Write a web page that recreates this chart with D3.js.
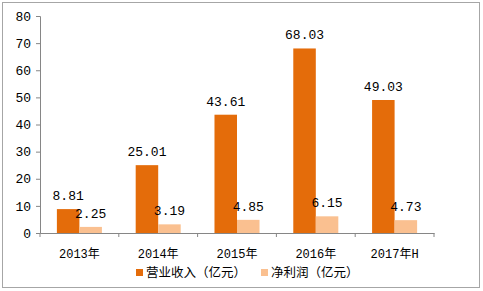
<!DOCTYPE html>
<html><head><meta charset="utf-8">
<script src="https://cdn.jsdelivr.net/npm/d3@7"></script>
<style>body{margin:0;background:#fff;}svg{display:block;}text{font-family:"Liberation Mono","Noto Sans CJK SC",monospace;}</style>
</head><body><svg id="c" width="483" height="291"></svg>
<script>
const categories = ["2013年","2014年","2015年","2016年","2017年H"];
const revenue = [8.81,25.01,43.61,68.03,49.03];
const profit = [2.25,3.19,4.85,6.15,4.73];
const yTicks = [0,10,20,30,40,50,60,70,80];
const seriesNames = ["营业收入（亿元）","净利润（亿元）"];
const colors = ["#E46C0A","#FAC090"];

const svg = d3.select("#c");
svg.append("rect").attr("x",2.5).attr("y",2.5).attr("width",477).attr("height",285)
  .attr("fill","#fff").attr("stroke","#A6A6A6");

const x = d3.scaleBand().domain(categories).range([40,434]).paddingInner(0).paddingOuter(0);
const y = d3.scaleLinear().domain([0,80]).range([233,16]);
const xs = d3.scaleBand().domain([0,1]).range([0,x.bandwidth()]).paddingInner(0).paddingOuter(0.75);

const yAxis = svg.append("g").attr("transform","translate(40,0)")
  .call(d3.axisLeft(y).tickValues(yTicks).tickSize(4).tickPadding(5).tickFormat(d3.format("d")));
yAxis.select(".domain").attr("stroke","#868686");
yAxis.selectAll(".tick line").attr("stroke","#868686");
yAxis.selectAll("text").attr("font-size",13).attr("fill","#000");

const xAxis = svg.append("g").attr("transform","translate(0,233)")
  .call(d3.axisBottom(x).tickSize(0).tickPadding(16));
xAxis.select(".domain").attr("stroke","#868686");
xAxis.selectAll("text").attr("font-size",12).attr("fill","#000");
// category boundary ticks
svg.append("g").selectAll("line").data(d3.range(categories.length+1)).join("line")
  .attr("x1",i=>40+i*x.bandwidth()).attr("x2",i=>40+i*x.bandwidth())
  .attr("y1",233).attr("y2",237).attr("stroke","#868686");

const series = [revenue, profit];
series.forEach((vals,si)=>{
  const g = svg.append("g");
  g.selectAll("rect").data(vals).join("rect")
    .attr("x",(d,i)=>x(categories[i])+xs(si))
    .attr("width",xs.bandwidth())
    .attr("y",d=>y(d)).attr("height",d=>233-y(d))
    .attr("fill",colors[si]);
  g.selectAll("text").data(vals).join("text")
    .attr("x",(d,i)=>x(categories[i])+xs(si)+xs.bandwidth()/2)
    .attr("y",d=>y(d)-9)
    .attr("text-anchor","middle").attr("font-size",13).attr("fill","#000")
    .text(d=>d.toFixed(2));
});

// legend
const leg = [{x:136},{x:261}];
seriesNames.forEach((n,i)=>{
  svg.append("rect").attr("x",leg[i].x).attr("y",269).attr("width",7).attr("height",7).attr("fill",colors[i]);
  svg.append("text").attr("x",leg[i].x+10).attr("y",277).attr("font-size",12.5).attr("fill","#000").text(n);
});
</script></body></html>
